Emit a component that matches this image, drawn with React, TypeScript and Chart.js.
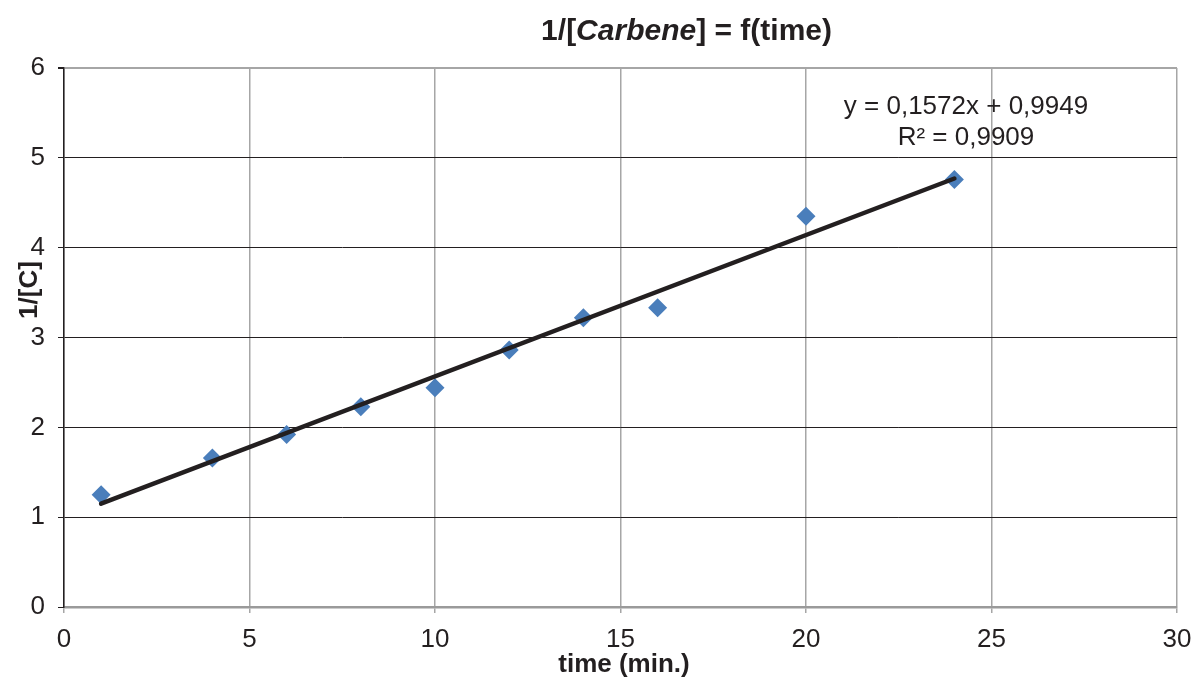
import React, { useEffect, useRef } from "react";
import { Chart, registerables } from "chart.js";

Chart.register(...registerables);

const timeValues = [1, 4, 6, 8, 10, 12, 14, 16, 20, 24];
const invConcValues = [1.25, 1.66, 1.92, 2.23, 2.44, 2.86, 3.22, 3.33, 4.35, 4.76];
const trendX = [1, 24];
const trendY = [1.15, 4.77];
const equationLines = ["y = 0,1572x + 0,9949", "R² = 0,9909"];
const xTitle = "time (min.)";
const yTitle = "1/[C]";

const FONT = "'Liberation Sans', Arial, sans-serif";
const TXT = "#231f20";

const textPlugin = {
  id: "customText",
  afterDraw(chart: any) {
    const ctx = chart.ctx as CanvasRenderingContext2D;
    ctx.save();
    ctx.fillStyle = TXT;
    ctx.textBaseline = "middle";
    // Title with italic part
    const parts = [
      { t: "1/[", f: `bold 30px ${FONT}` },
      { t: "Carbene", f: `italic bold 30px ${FONT}` },
      { t: "] = f(time)", f: `bold 30px ${FONT}` },
    ];
    let total = 0;
    for (const p of parts) {
      ctx.font = p.f;
      total += ctx.measureText(p.t).width;
    }
    let x = 832 - total;
    ctx.textAlign = "left";
    for (const p of parts) {
      ctx.font = p.f;
      ctx.fillText(p.t, x, 32);
      x += ctx.measureText(p.t).width;
    }
    // equation
    ctx.textAlign = "center";
    ctx.font = `26px ${FONT}`;
    ctx.fillText(equationLines[0], 966, 107);
    ctx.fillText(equationLines[1], 966, 138);
    // axis titles
    ctx.font = `bold 26px ${FONT}`;
    ctx.fillText(xTitle, 624, 665);
    ctx.save();
    ctx.translate(30, 290);
    ctx.rotate(-Math.PI / 2);
    ctx.fillText(yTitle, 0, 0);
    ctx.restore();
    ctx.restore();
  },
};

export default function App() {
  const ref = useRef<HTMLCanvasElement | null>(null);
  useEffect(() => {
    if (!ref.current) return;
    const chart = new Chart(ref.current, {
      type: "scatter",
      data: {
        datasets: [
          {
            type: "line",
            label: "trend",
            data: trendX.map((x, i) => ({ x, y: trendY[i] })),
            borderColor: "#231f20",
            borderWidth: 4.5,
            borderCapStyle: "round",
            pointRadius: 0,
            order: 0,
          } as any,
          {
            label: "1/[C]",
            data: timeValues.map((x, i) => ({ x, y: invConcValues[i] })),
            pointStyle: "rectRot",
            pointRadius: 9.5,
            pointBackgroundColor: "#4a7ebb",
            pointBorderColor: "#4a7ebb",
            pointBorderWidth: 0,
            order: 1,
          },
        ],
      },
      options: {
        animation: false,
        responsive: true,
        maintainAspectRatio: false,
        layout: { padding: { top: 68, right: 19, left: 0, bottom: 0 } },
        plugins: {
          legend: { display: false },
          title: { display: false },
          tooltip: { enabled: false },
        },
        scales: {
          x: {
            type: "linear",
            min: 0,
            max: 30,
            afterFit: (s: any) => {
              s.height = 75;
              s.paddingLeft = 0;
              s.paddingRight = 0;
            },
            ticks: {
              stepSize: 5,
              color: TXT,
              font: { family: FONT, size: 26 },
              padding: 11,
            },
            grid: {
              color: "#a6a6a6",
              lineWidth: 1.5,
              tickLength: 6,
              tickColor: "#a6a6a6",
            },
            border: { color: "#9a9a9a", width: 2.5 },
          },
          y: {
            min: 0,
            max: 6,
            afterFit: (s: any) => {
              s.width = 64;
              s.paddingTop = 0;
              s.paddingBottom = 0;
            },
            ticks: {
              stepSize: 1,
              color: TXT,
              font: { family: FONT, size: 26 },
              padding: 13,
            },
            grid: {
              color: (c: any) => (c.tick && c.tick.value === 6 ? "#a6a6a6" : "#231f20"),
              lineWidth: (c: any) => (c.tick && c.tick.value === 6 ? 2 : 1),
              tickLength: 6,
              tickColor: "#231f20",
            },
            border: { color: "#231f20", width: 1.5 },
          },
        },
      },
      plugins: [textPlugin],
    });
    return () => chart.destroy();
  }, []);
  return (
    <div style={{ position: "absolute", left: 0, top: 0, width: 1196, height: 682, background: "#fff" }}>
      <canvas ref={ref} />
    </div>
  );
}
